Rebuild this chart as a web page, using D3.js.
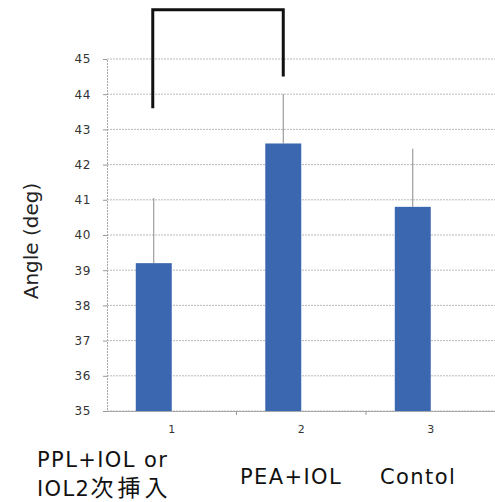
<!DOCTYPE html>
<html>
<head>
<meta charset="utf-8">
<script src="https://cdn.jsdelivr.net/npm/d3@7"></script>
<style>
  body { margin: 0; background: #fff; }
  svg { display: block; }
</style>
</head>
<body>
<svg width="495" height="502"></svg>
<script>
const categories = ['1', '2', '3'];
const values = [39.2, 42.6, 40.8];
const errUpper = [41.05, 44.0, 42.45];
const yTicks = [35, 36, 37, 38, 39, 40, 41, 42, 43, 44, 45];
const groupLines = [['PPL+IOL or', 'IOL2次挿入'], ['PEA+IOL'], ['Contol']];
// significance bracket between group 1 and 2 (value at the ends of the legs)
const bracket = { from: 0, to: 1, top: 46.4, leftEnd: 43.6, rightEnd: 44.5 };

const svg = d3.select('svg');
const margin = { left: 107, right: 0, top: 59, bottom: 91 };
const width = +svg.attr('width');
const height = +svg.attr('height');

const x = d3.scaleBand().domain(categories).range([margin.left, width + 0.5]);
const y = d3.scaleLinear().domain([35, 45]).range([height - margin.bottom, margin.top]);
const barW = x.bandwidth() / 3.6;
const barX = c => x(c) + x.bandwidth() / 2 - barW;

// gridlines
svg.append('g').selectAll('line').data(yTicks).enter().append('line')
  .attr('x1', margin.left).attr('x2', width)
  .attr('y1', d => y(d)).attr('y2', d => y(d))
  .attr('stroke', '#a8a8a8').attr('stroke-width', 0.8).attr('stroke-dasharray', '2,1');

// y axis
const yAxis = svg.append('g')
  .attr('transform', `translate(${margin.left},0)`)
  .call(d3.axisLeft(y).tickValues(yTicks).tickSize(4).tickPadding(12));
yAxis.select('.domain').attr('stroke', '#a8a8a8').attr('stroke-dasharray', '2,1');
yAxis.selectAll('.tick line').attr('stroke', '#999');
yAxis.selectAll('text').attr('font-family', 'DejaVu Sans').attr('font-size', 12)
  .attr('letter-spacing', 0.6).attr('fill', '#333');

// x axis
const xAxis = svg.append('g')
  .attr('transform', `translate(0,${y(35)})`)
  .call(d3.axisBottom(x).tickSize(0).tickPadding(14));
xAxis.select('.domain').attr('stroke', '#a8a8a8');
xAxis.selectAll('text').attr('font-family', 'DejaVu Sans').attr('font-size', 11).attr('fill', '#333');
// tick marks between categories
svg.append('g').selectAll('line').data(categories.slice(1)).enter().append('line')
  .attr('x1', d => x(d)).attr('x2', d => x(d))
  .attr('y1', y(35)).attr('y2', y(35) + 4)
  .attr('stroke', '#999');

// bars
svg.append('g').selectAll('rect').data(values).enter().append('rect')
  .attr('x', (d, i) => barX(categories[i]))
  .attr('width', barW)
  .attr('y', d => y(d))
  .attr('height', d => y(35) - y(d))
  .attr('fill', '#3b67b0');

// error bars (upper only)
svg.append('g').selectAll('line').data(errUpper).enter().append('line')
  .attr('x1', (d, i) => barX(categories[i]) + barW / 2)
  .attr('x2', (d, i) => barX(categories[i]) + barW / 2)
  .attr('y1', (d, i) => y(values[i]))
  .attr('y2', d => y(d))
  .attr('stroke', '#8a8a8a').attr('stroke-width', 1);

// bracket
const bx1 = barX(categories[bracket.from]) + barW / 2 - 1;
const bx2 = barX(categories[bracket.to]) + barW / 2;
svg.append('path')
  .attr('d', `M${bx1},${y(bracket.leftEnd)}V${y(bracket.top)}H${bx2}V${y(bracket.rightEnd)}`)
  .attr('fill', 'none').attr('stroke', '#111').attr('stroke-width', 3);

// y title
svg.append('text')
  .attr('transform', `translate(38,${(y(35) + y(45)) / 2 + 6}) rotate(-90)`)
  .attr('text-anchor', 'middle')
  .attr('font-family', 'DejaVu Sans, Noto Sans CJK JP')
  .attr('font-size', 20)
  .attr('fill', '#222')
  .text('Angle (deg)');

// group labels; CJK runs are drawn a bit larger, like the source font
const labelX = [37, 240, 380];
const labelY = [[467, 496], [484], [484]];
groupLines.forEach((lines, i) => {
  lines.forEach((t, j) => {
    const txt = svg.append('text')
      .attr('x', labelX[i]).attr('y', labelY[i][j])
      .attr('font-family', 'DejaVu Sans, Noto Sans CJK JP')
      .attr('font-size', 21)
      .attr('letter-spacing', 1.4)
      .attr('fill', '#111');
    t.split(/([^\x00-\x7f]+)/).filter(s => s).forEach(s => {
      const cjk = /[^\x00-\x7f]/.test(s);
      txt.append('tspan')
        .attr('font-size', cjk ? 23 : null)
        .attr('letter-spacing', cjk ? 4 : null)
        .text(s);
    });
  });
});
</script>
</body>
</html>
